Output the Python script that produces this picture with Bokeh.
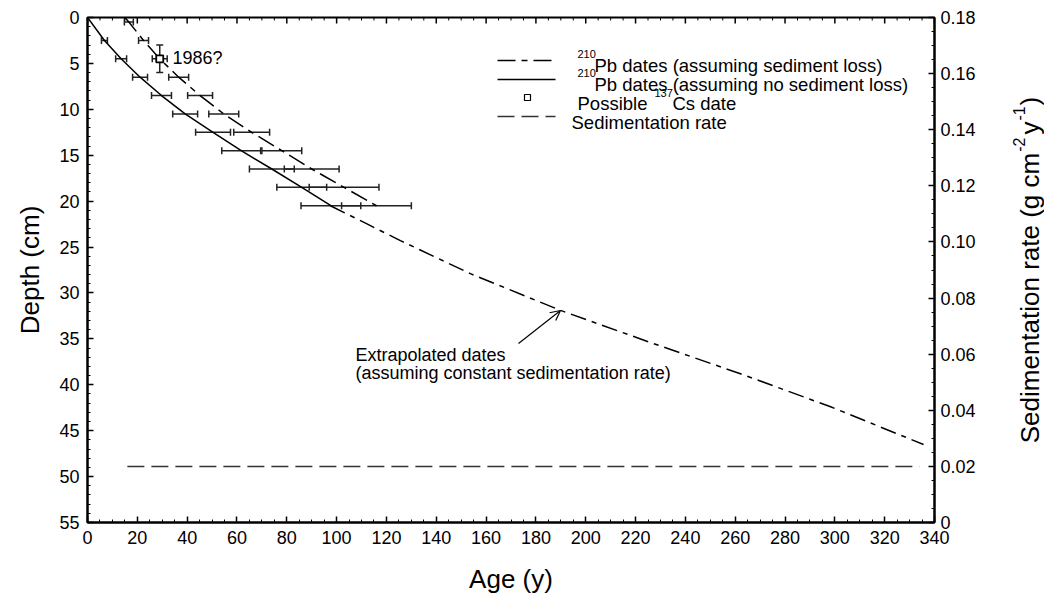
import numpy as np
from bokeh.plotting import figure
from bokeh.layouts import row
from bokeh.models import (Range1d, LinearAxis, FixedTicker, CustomJSTickFormatter,
                          Whisker, TeeHead, ColumnDataSource, Arrow, OpenHead)
from bokeh.core.properties import value
from bokeh.embed import file_html
from bokeh.resources import INLINE

FONT = "Liberation Sans"

# ---------------- data ----------------
# 210Pb dates assuming no sediment loss (solid line)
depth_noloss = [0, 2.5, 4.5, 6.5, 8.5, 10.5, 12.5, 14.5, 16.5, 18.5, 20.5]
age_noloss = [0, 6.8, 13.5, 21.1, 29.7, 39.2, 50.4, 61.7, 74.0, 86.0, 97.7]
err_noloss = [0, 1.2, 2.2, 3.0, 4.0, 5.0, 7.0, 7.8, 9.0, 10.0, 12.0]

# 210Pb dates assuming sediment loss (dashed line)
depth_loss = [0, 0.5, 2.5, 4.5, 6.5, 8.5, 10.5, 12.5, 14.5, 16.5, 18.5, 20.5]
age_loss = [15.0, 16.6, 22.5, 29.0, 36.6, 45.2, 54.7, 65.9, 78.0, 90.0, 103.0, 116.0]
err_loss = [0, 1.8, 2.0, 3.0, 4.0, 5.0, 6.0, 7.2, 8.0, 11.0, 14.0, 14.0]

# extrapolated dates (constant sedimentation rate)
age_extrap = [97.5, 111.6, 125.6, 153.7, 189.9, 226.0, 262.1, 298.3, 335.6]
depth_extrap = [20.5, 22.4, 24.3, 27.9, 31.9, 35.4, 38.8, 42.4, 46.5]

# possible 137Cs date
cs_age = [29.0]
cs_depth = [4.5]
cs_depth_err = [1.5]

# sedimentation rate
rate_age = [16.0, 334.0]
rate_value = [0.02, 0.02]

x_ticks = list(range(0, 341, 20))
x_minor = list(range(0, 341, 5))
y_ticks = list(range(0, 56, 5))
r_ticks = [round(0.02 * i, 2) for i in range(10)]

# ---------------- layout helpers (page px -> data) ----------------
WIDTH, HEIGHT = 1044, 601
MAIN_W = 1004
FL, FR, FT, FB = 87, 934, 17, 522


def dx(px):
    return (px - FL) * 340.0 / (FR - FL)


def dy(py):
    return (py - FT) * 55.0 / (FB - FT)


p = figure(width=MAIN_W, height=HEIGHT, x_range=Range1d(0, 340), y_range=Range1d(55, 0),
           output_backend="svg", toolbar_location=None,
           min_border_left=FL, min_border_right=MAIN_W - FR,
           min_border_top=FT, min_border_bottom=HEIGHT - FB)
p.extra_y_ranges = {"rate": Range1d(0, 0.18)}
p.xgrid.visible = False
p.ygrid.visible = False
p.outline_line_color = "black"
p.outline_line_width = 2
p.background_fill_color = "white"
p.border_fill_color = "white"


def style_axis(ax):
    ax.axis_line_width = 2
    ax.axis_line_color = "black"
    ax.major_tick_in = 6
    ax.major_tick_out = 0
    ax.minor_tick_in = 3
    ax.minor_tick_out = 0
    ax.major_tick_line_width = 1.5
    ax.minor_tick_line_width = 1
    ax.major_tick_line_color = "black"
    ax.minor_tick_line_color = "black"
    ax.major_label_text_font = FONT
    ax.major_label_text_color = "black"
    ax.major_label_text_font_size = "18px"
    ax.axis_label_text_font = FONT
    ax.axis_label_text_font_size = "26px"
    ax.axis_label_text_font_style = "normal"
    ax.axis_label_text_color = "black"


xa = p.xaxis[0]
xa.ticker = FixedTicker(ticks=x_ticks, minor_ticks=x_minor)
style_axis(xa)
xa.major_label_standoff = 8
xa.axis_label = "Age (y)"
xa.axis_label_standoff = 17

ya = p.yaxis[0]
ya.ticker = FixedTicker(ticks=y_ticks, minor_ticks=list(range(0, 56, 1)))
style_axis(ya)
ya.major_label_standoff = 8
ya.axis_label = "Depth (cm)"
ya.axis_label_standoff = 11

right = LinearAxis(y_range_name="rate",
                   ticker=FixedTicker(ticks=r_ticks, minor_ticks=[0.005 * i for i in range(37)]),
                   formatter=CustomJSTickFormatter(
                       code="return Math.abs(tick) < 1e-9 ? '0' : tick.toFixed(2);"))
style_axis(right)
right.major_label_standoff = 6
p.add_layout(right, "right")

# top edge ticks (inner halves of vertical dashes centred on the top border)
x_minor_only = [t for t in x_minor if t % 20]
p.scatter(x_ticks, [0] * len(x_ticks), marker="dash", angle=np.pi / 2, size=12,
          line_color="black", line_width=1.5)
p.scatter(x_minor_only, [0] * len(x_minor_only),
          marker="dash", angle=np.pi / 2, size=6, line_color="black", line_width=1)

# ---------------- marks ----------------
p.line(age_noloss, depth_noloss, line_color="black", line_width=1.5)
p.line(age_loss, depth_loss, line_color="black", line_width=1.5, line_dash="18 6 6 6")
p.line(age_extrap, depth_extrap, line_color="black", line_width=1.5, line_dash="16 6 5 6")
p.line(rate_age, rate_value, y_range_name="rate", line_color="#333333", line_width=1.5,
       line_dash="17 7")

src_nl = ColumnDataSource(dict(
    d=depth_noloss[1:],
    lo=[a - e for a, e in zip(age_noloss[1:], err_noloss[1:])],
    hi=[a + e for a, e in zip(age_noloss[1:], err_noloss[1:])]))
src_l = ColumnDataSource(dict(
    d=depth_loss[1:],
    lo=[a - e for a, e in zip(age_loss[1:], err_loss[1:])],
    hi=[a + e for a, e in zip(age_loss[1:], err_loss[1:])]))
for src in (src_nl, src_l):
    p.add_layout(Whisker(source=src, base="d", lower="lo", upper="hi", dimension="width",
                         line_color="#222222", line_width=1.5,
                         lower_head=TeeHead(size=7, line_width=1.5, line_color="#222222"),
                         upper_head=TeeHead(size=7, line_width=1.5, line_color="#222222")))

src_cs = ColumnDataSource(dict(
    a=cs_age,
    lo=[d - e for d, e in zip(cs_depth, cs_depth_err)],
    hi=[d + e for d, e in zip(cs_depth, cs_depth_err)]))
p.add_layout(Whisker(source=src_cs, base="a", lower="lo", upper="hi", dimension="height",
                     line_color="#222222", line_width=1.5,
                     lower_head=TeeHead(size=7, line_width=1.5, line_color="#222222"),
                     upper_head=TeeHead(size=7, line_width=1.5, line_color="#222222")))
p.scatter(cs_age, cs_depth, marker="square", size=7, fill_color="white",
          line_color="black", line_width=1.8)

# ---------------- legend (drawn by hand) ----------------
lx0, lx1 = dx(497), dx(555)
rows = [60, 79, 97, 116]
p.line([lx0, lx1], [dy(rows[0])] * 2, line_color="black", line_width=1.5, line_dash="18 6 6 6")
p.line([lx0, lx1], [dy(rows[1])] * 2, line_color="black", line_width=1.5)
p.scatter([dx(527)], [dy(rows[2])], marker="square", size=6, fill_color="white",
          line_color="black", line_width=1.2)
p.line([lx0, lx1], [dy(rows[3])] * 2, line_color="#333333", line_width=1.5, line_dash="17 7")


def txt(px, py, s, size="18px", align="left"):
    p.text(x=[dx(px)], y=[dy(py)], text=[s], text_font=value(FONT), text_font_size=size,
           text_color="black", text_align=align, text_baseline="alphabetic")


txt(577, 53, "210", "11px")
txt(594, 65, "Pb dates (assuming sediment loss)", "18.5px")
txt(577, 72, "210", "11px")
txt(594, 84, "Pb dates (assuming no sediment loss)", "18.5px")
txt(577, 103, "Possible", "18.5px")
txt(654, 92, "137", "11px")
txt(672, 103, "Cs date", "18.5px")
txt(571, 122, "Sedimentation rate", "18.5px")

# annotations
txt(172, 57, "1986?")
txt(355, 354, "Extrapolated dates")
txt(355, 372, "(assuming constant sedimentation rate)")
p.add_layout(Arrow(end=OpenHead(size=10, line_width=1.2, line_color="black"),
                   x_start=dx(518), y_start=dy(343), x_end=dx(560), y_end=dy(310),
                   line_color="black", line_width=1.2))

# ---------------- right axis title (narrow side figure, with superscripts) ----------------
# its frame is aligned with the main frame (rows FT..FB), so data y == page y there
SIDE_W = WIDTH - MAIN_W
t = figure(width=SIDE_W, height=HEIGHT, x_range=Range1d(0, SIDE_W), y_range=Range1d(FB, FT),
           output_backend="svg", toolbar_location=None, x_axis_location=None,
           y_axis_location=None, min_border_left=0, min_border_right=0,
           min_border_top=FT, min_border_bottom=HEIGHT - FB)
t.xgrid.visible = False
t.ygrid.visible = False
t.outline_line_color = None
t.background_fill_color = "white"
t.border_fill_color = "white"

W = {"S": 667, "e": 556, "d": 556, "i": 222, "m": 833, "n": 556, "t": 278, "a": 556,
     "o": 556, " ": 278, "r": 333, "(": 333, "g": 556, "c": 500, "y": 500, ")": 333,
     "-": 333, "1": 556, "2": 556}


def wid(s, size):
    return sum(W[c] for c in s) * size / 1000.0


pieces = [("Sedimentation rate (g cm", 26, 0, 0), ("-2", 16, -11, 1), ("y", 26, 0, 3),
          ("-1", 16, -11, 1), (")", 26, 0, 1)]
total = sum(wid(s, f) + g for s, f, _, g in pieces)
base_x = 1029 - MAIN_W
ypos = (FT + FB) / 2.0 + total / 2.0
for s, f, shift, gap in pieces:
    ypos -= gap
    t.text(x=[base_x + shift], y=[ypos], text=[s], text_font=value(FONT),
           text_font_size="%dpx" % f, text_color="black", text_align="left",
           text_baseline="alphabetic", angle=np.pi / 2)
    ypos -= wid(s, f)

layout = row(p, t, spacing=0)
open("out.html", "w").write(file_html(layout, INLINE))
